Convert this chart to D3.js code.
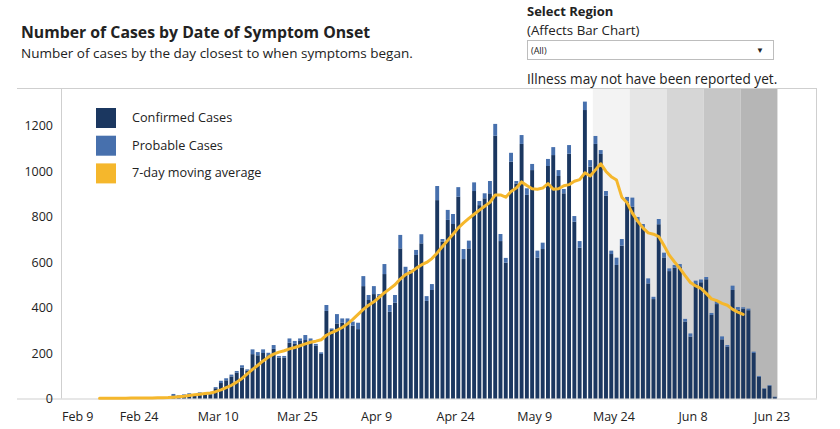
<!DOCTYPE html>
<html>
<head>
<meta charset="utf-8">
<script src="https://cdn.jsdelivr.net/npm/d3@7"></script>
<style>
  body { margin: 0; background: #fff; }
  text { font-family: "Open Sans", sans-serif; fill: #222; }
</style>
</head>
<body>
<div id="chart"></div>
<script>
// daily counts from Mar 1 2020 onward
const barStart = "2020-03-01";
const confirmed = [
  14,11,15,18,16,22,17,19,45,68,
  80,97,113,136,122,195,190,200,190,218,
  180,180,245,240,253,257,253,232,196,385,
  301,330,333,335,320,305,494,433,459,452,
  547,381,421,660,547,555,631,682,429,477,
  872,690,785,767,887,613,660,912,850,880,
  902,1155,692,597,1041,945,1119,895,1004,619,
  657,1022,1070,978,902,1076,777,663,1268,1019,
  1119,1075,891,635,587,672,865,843,777,752,
  506,437,766,620,560,575,578,338,272,503,
  511,524,367,415,260,228,477,390,395,388,
  200,95,43,56,6
];
const probable = [
  6,3,3,5,3,5,3,3,5,10,
  9,8,8,10,6,21,14,16,11,17,
  7,7,19,13,11,22,11,8,7,26,
  7,41,19,17,18,28,44,22,35,7,
  44,30,34,59,32,10,22,40,21,26,
  62,11,44,44,42,44,34,38,18,22,
  54,52,31,21,39,11,39,29,27,31,
  28,31,35,26,19,38,25,29,37,29,
  35,17,21,15,32,29,21,40,21,15,
  22,10,23,21,12,12,13,12,14,15,
  12,10,9,13,13,7,19,12,6,7,
  6,4,2,3,2
];

// 7-day moving average, from Feb 16
const avgStart = "2020-02-16";
const movingAvg = [
  1,1,1,1,1,1,2,2,2,2,2,3,3,4,
  6,8,10,13,16,19,22,24,30,38,
  48,58,72,88,108,128,146,165,182,195,
  204,210,218,224,232,240,247,252,258,278,
  290,300,312,328,348,370,392,410,425,445,
  465,482,500,525,545,555,572,587,598,615,
  640,668,695,722,750,772,792,810,828,845,
  862,895,895,885,910,925,952,936,922,920,
  925,945,920,922,935,940,955,962,992,978,
  1005,1032,998,975,960,885,860,815,780,750,
  728,722,712,672,630,600,572,540,510,495,
  484,462,438,430,418,410,392,380,370
];

// grey weeks where illness may not be reported yet
const bandStarts = ["2020-05-20","2020-05-27","2020-06-03","2020-06-10","2020-06-17"];
const bandColors = ["#f3f3f3","#e6e6e6","#d6d6d6","#c6c6c6","#b6b6b6"];

const xTicks = ["2020-02-09","2020-02-24","2020-03-10","2020-03-25","2020-04-09",
  "2020-04-24","2020-05-09","2020-05-24","2020-06-08","2020-06-23"];
const yTicks = [0,200,400,600,800,1000,1200];

const legendLabels = ["Confirmed Cases","Probable Cases","7-day moving average"];
const colors = { confirmed: "#1b3760", probable: "#4770ad", avg: "#f5b72c" };

const W = 840, H = 429;
const parse = d3.utcParse("%Y-%m-%d");
const fmt = d3.utcFormat("%b %-d");

const svg = d3.select("#chart").append("svg")
  .attr("width", W)
  .attr("height", H);

const plotL = 60, plotR = 817, plotT = 88, plotB = 398.5;
const t0 = parse("2020-02-09");
const x = d3.scaleUtc()
  .domain([t0, new Date(t0.getTime() + 143.5*864e5)])
  .range([plotL, plotR]);
const y = d3.scaleLinear().domain([0, 1200]).range([plotB, plotB - 273]);

const dayW = x(d3.utcDay.offset(t0, 1)) - x(t0);
const half = 12*3600e3;

// bands
svg.append("g").selectAll("rect")
  .data(bandStarts)
  .join("rect")
  .attr("x", d => x(parse(d)))
  .attr("width", d => x(d3.utcDay.offset(parse(d), 7)) - x(parse(d)))
  .attr("y", plotT)
  .attr("height", plotB - plotT)
  .attr("fill", (d, i) => bandColors[i]);

// frame
const frame = svg.append("g").attr("stroke", "#cfcfcf").attr("stroke-width", 1);
frame.append("line").attr("x1", 17).attr("x2", plotR).attr("y1", plotT + 0.5).attr("y2", plotT + 0.5);
frame.append("line").attr("x1", 17).attr("x2", plotR).attr("y1", plotB + 0.5).attr("y2", plotB + 0.5);
frame.append("line").attr("x1", plotL + 1.5).attr("x2", plotL + 1.5).attr("y1", plotT).attr("y2", plotB);
frame.append("line").attr("x1", plotR - 0.5).attr("x2", plotR - 0.5).attr("y1", plotT).attr("y2", plotB);

// bars
const days = confirmed.map((c, i) => ({
  date: d3.utcDay.offset(parse(barStart), i),
  c: c,
  p: probable[i]
}));
const bw = dayW * 0.74;
const bars = svg.append("g");
bars.selectAll(".conf")
  .data(days)
  .join("rect")
  .attr("class", "conf")
  .attr("x", d => x(new Date(d.date.getTime() + half)) - bw/2)
  .attr("width", bw)
  .attr("y", d => y(d.c))
  .attr("height", d => y(0) - y(d.c))
  .attr("fill", colors.confirmed);
bars.selectAll(".prob")
  .data(days)
  .join("rect")
  .attr("class", "prob")
  .attr("x", d => x(new Date(d.date.getTime() + half)) - bw/2)
  .attr("width", bw)
  .attr("y", d => y(d.c + d.p))
  .attr("height", d => y(d.c) - y(d.c + d.p))
  .attr("fill", colors.probable);

// moving average
const avg = movingAvg.map((v, i) => ({ date: d3.utcDay.offset(parse(avgStart), i), v: v }));
const line = d3.line()
  .x(d => x(new Date(d.date.getTime() + half)))
  .y(d => y(d.v));
svg.append("path")
  .datum(avg)
  .attr("d", line)
  .attr("fill", "none")
  .attr("stroke", colors.avg)
  .attr("stroke-width", 3)
  .attr("stroke-linejoin", "round")
  .attr("stroke-linecap", "round");

// y axis labels
svg.append("g").selectAll("text")
  .data(yTicks)
  .join("text")
  .attr("x", 53)
  .attr("y", d => y(d) + 4.5)
  .attr("text-anchor", "end")
  .attr("font-size", 12.5)
  .text(d => d);

// x axis labels
svg.append("g").selectAll("text")
  .data(xTicks)
  .join("text")
  .attr("x", (d, i) => i == 0 ? x(parse(d)) + 2 : x(parse(d)))
  .attr("y", 421)
  .attr("text-anchor", (d, i) => i == 0 ? "start" : "middle")
  .attr("font-size", 12.5)
  .text(d => fmt(parse(d)));

// legend
const leg = svg.append("g").attr("transform", "translate(96,108)");
const legColors = [colors.confirmed, colors.probable, colors.avg];
legendLabels.forEach((l, i) => {
  leg.append("rect").attr("x", 0).attr("y", i*27.7).attr("width", 20).attr("height", 20).attr("fill", legColors[i]);
  leg.append("text").attr("x", 36).attr("y", i*27.7 + 14).attr("font-size", 12.7).text(l);
});

// titles
svg.append("text").attr("x", 21).attr("y", 38).attr("font-size", 15.8).attr("font-weight", "bold")
  .attr("fill", "#111").text("Number of Cases by Date of Symptom Onset");
svg.append("text").attr("x", 21).attr("y", 57.5).attr("font-size", 13.5)
  .text("Number of cases by the day closest to when symptoms began.");

// region selector
svg.append("text").attr("x", 527).attr("y", 16).attr("font-size", 13).attr("font-weight", "bold").text("Select Region");
svg.append("text").attr("x", 527).attr("y", 34.5).attr("font-size", 13.3).text("(Affects Bar Chart)");
svg.append("rect").attr("x", 527.5).attr("y", 40.5).attr("width", 246).attr("height", 19)
  .attr("fill", "#fff").attr("stroke", "#bdbdbd");
svg.append("text").attr("x", 531).attr("y", 54).attr("font-size", 9).text("(All)");
svg.append("text").attr("x", 760).attr("y", 53).attr("font-size", 8).attr("text-anchor", "middle").text("▼");
svg.append("text").attr("x", 527).attr("y", 84).attr("font-size", 13.6).text("Illness may not have been reported yet.");
</script>
</body>
</html>
